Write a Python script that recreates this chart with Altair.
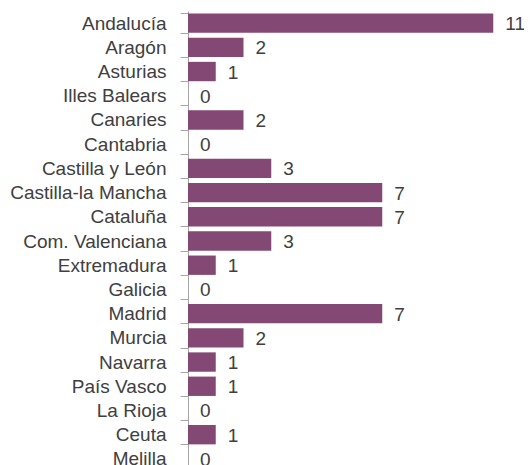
import altair as alt
import pandas as pd

regions = ["Andalucía", "Aragón", "Asturias", "Illes Balears", "Canaries", "Cantabria",
           "Castilla y León", "Castilla-la Mancha", "Cataluña", "Com. Valenciana",
           "Extremadura", "Galicia", "Madrid", "Murcia", "Navarra", "País Vasco",
           "La Rioja", "Ceuta", "Melilla"]
values = [11, 2, 1, 0, 2, 0, 3, 7, 7, 3, 1, 0, 7, 2, 1, 1, 0, 1, 0]

df = pd.DataFrame({"region": regions, "value": values})

FONT = "Liberation Sans"
TXT = "#404040"

y_scale = alt.Scale(paddingInner=0.2, paddingOuter=0.1, range=[0, 460])
y_enc = alt.Y("region:N", sort=regions, scale=y_scale,
              axis=alt.Axis(title=None, tickBand="extent", tickSize=8,
                            tickColor="#A6A6A6", domainColor="#A6A6A6",
                            labelPadding=14, labelFontSize=19, labelFont=FONT,
                            labelColor=TXT, grid=False, labelLimit=300))
x_enc = alt.X("value:Q", scale=alt.Scale(domain=[0, 12], nice=False), axis=None)

bars = alt.Chart(df).mark_bar(color="#844875").encode(x=x_enc, y=y_enc)
labels = alt.Chart(df).mark_text(align="left", baseline="middle", dx=12, dy=1,
                                 font=FONT, fontSize=19, color=TXT).encode(
    x=x_enc, y=alt.Y("region:N", sort=regions), text="value:Q")

chart = (bars + labels).properties(
    width=333, height=454,
    autosize=alt.AutoSizeParams(type="none"),
    padding={"left": 180, "top": 3, "right": 3, "bottom": 0},
).configure_view(stroke=None)

chart.save("out.html", embed_options={"renderer": "svg", "actions": False})
